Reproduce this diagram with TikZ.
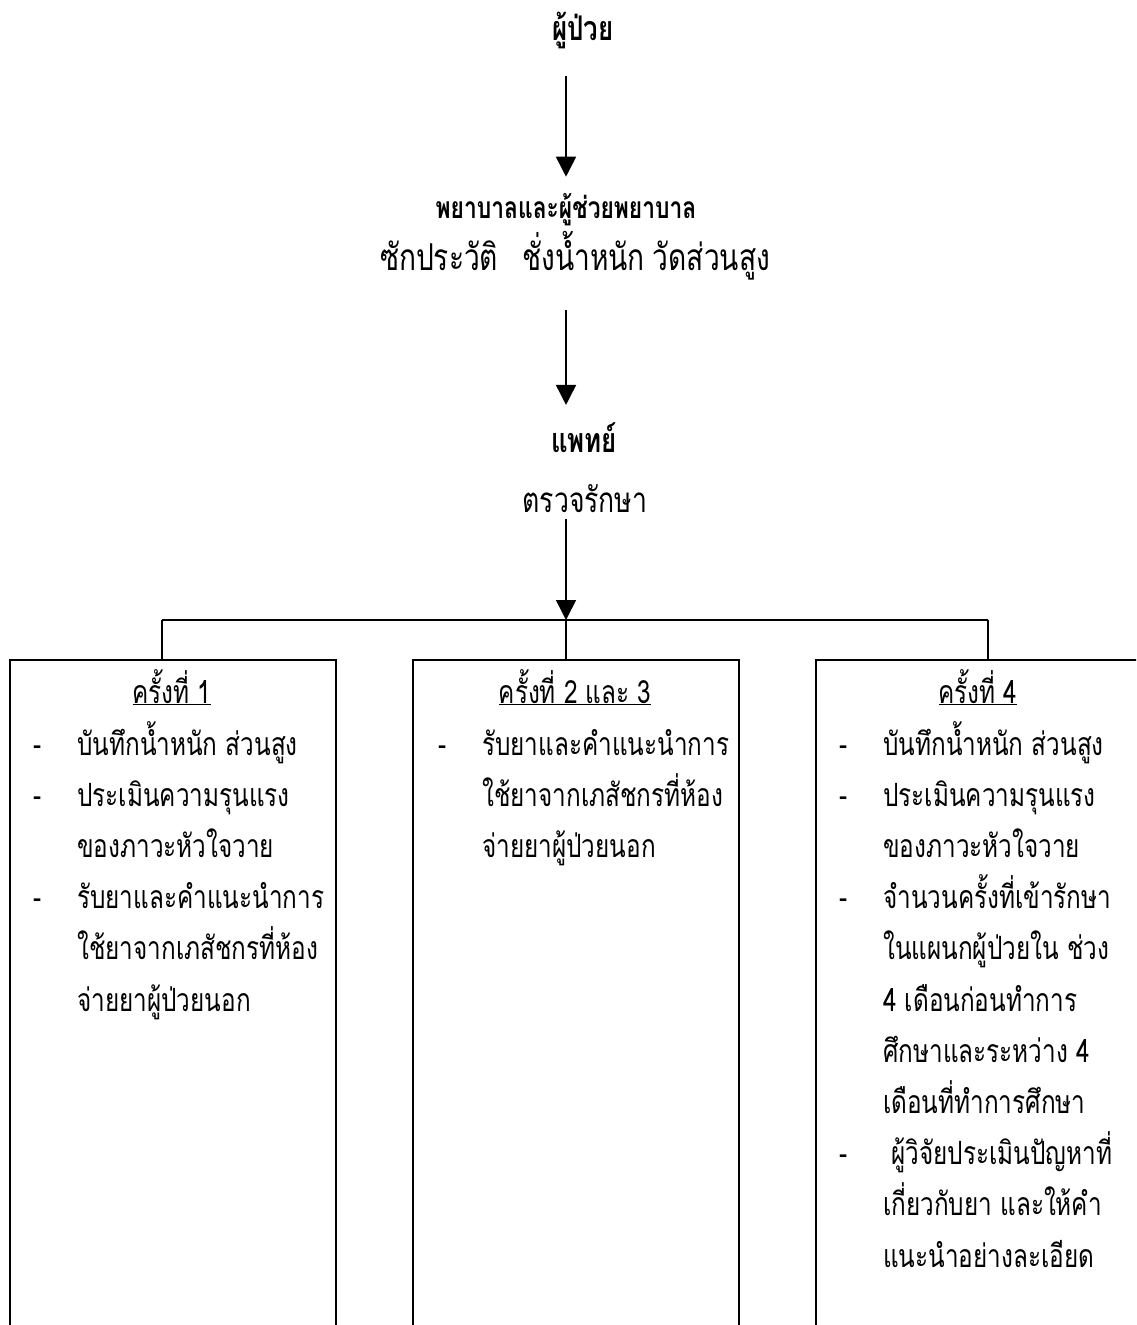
\documentclass[tikz,border=0pt]{standalone}
\usepackage{fontspec}
\newfontfamily\thai[Script=Thai,FakeStretch=0.76]{Loma}
\usetikzlibrary{arrows.meta,positioning}
\newcommand\listdash{\llap{\makebox[44pt][l]{-}}}

\begin{document}
\begin{tikzpicture}[
  x=1pt, y=-1pt,
  font=\thai\fontsize{32}{51.2}\selectfont,
  label/.style={inner sep=0pt, anchor=base},
  title/.style={label, font=\thai\bfseries\fontsize{34}{51.2}\selectfont},
  panel/.style={draw, line width=2pt, anchor=north west, minimum width=326pt, minimum height=720pt, inner sep=0pt},
  % base anchor of a many-line node is its last line
  body/.style={inner sep=0pt, anchor=base west, align=left},
  arrow/.style={line width=1.6pt, -{Triangle[length=20pt, width=20pt]}},
  line/.style={line width=1.6pt},
]
\useasboundingbox (0,0) rectangle (1136,1325);
\clip (0,0) rectangle (1136,1325);

% flow from patient to doctor
\node[title] (patient) at (583,40) {ผู้ป่วย};
\node[title, font=\thai\bfseries\fontsize{30}{40}\selectfont] (nurse) at (566,218) {พยาบาลและผู้ช่วยพยาบาล};
\node[label, font=\thai\fontsize{37}{45}\selectfont] (nursetask) at (575,270) {ซักประวัติ\hspace{24pt}ชั่งน้ำหนัก\hspace{8pt}วัดส่วนสูง};
\node[title] (doctor) at (584,452) {แพทย์};
\node[label, font=\thai\fontsize{35}{45}\selectfont] (doctask) at (585,512) {ตรวจรักษา};

\coordinate (split) at (566,620);
\coordinate (barL) at (162,620);
\coordinate (barR) at (988,620);

\draw[arrow, shorten <=27pt, shorten >=16pt] (patient.south -| split) -- (nurse.north -| split);
\draw[arrow, shorten <=30pt, shorten >=17pt] (nursetask.south -| split) -- (doctor.north -| split);
\draw[arrow, shorten <=7pt] (doctask.south -| split) -- (split);

% the three visits
\node[panel] (visit1) at (9,659) {};
\node[panel] (visit23) at (412,659) {};
\node[panel] (visit4) at (815,659) {};

\draw[line] (barL) -- (barR);
\draw[line] (barL) -- (barL |- visit1.north);
\draw[line] (split) -- (split |- visit23.north);
\draw[line] (barR) -- (barR |- visit4.north);

\node[label] (head1) at (172,703) {\underline{ครั้งที่ 1}};
\node[label] (head23) at (575,703) {\underline{ครั้งที่ 2 และ 3}};
\node[label] (head4) at (978,703) {\underline{ครั้งที่ 4}};

\node[body] (list1) at (77,1011) {\listdash บันทึกน้ำหนัก ส่วนสูง\\
  \listdash ประเมินความรุนแรง\\
  ของภาวะหัวใจวาย\\
  \listdash รับยาและคำแนะนำการ\\
  ใช้ยาจากเภสัชกรที่ห้อง\\
  จ่ายยาผู้ป่วยนอก};
\node[body] (list23) at (482,857.4) {\listdash รับยาและคำแนะนำการ\\
  ใช้ยาจากเภสัชกรที่ห้อง\\
  จ่ายยาผู้ป่วยนอก};
\node[body] (list4) at (883,1267) {\listdash บันทึกน้ำหนัก ส่วนสูง\\
  \listdash ประเมินความรุนแรง\\
  ของภาวะหัวใจวาย\\
  \listdash จำนวนครั้งที่เข้ารักษา\\
  ในแผนกผู้ป่วยใน ช่วง\\
  4 เดือนก่อนทำการ\\
  ศึกษาและระหว่าง 4\\
  เดือนที่ทำการศึกษา\\
  \listdash\hspace{8pt}ผู้วิจัยประเมินปัญหาที่\\
  เกี่ยวกับยา และให้คำ\\
  แนะนำอย่างละเอียด};
\end{tikzpicture}
\end{document}
